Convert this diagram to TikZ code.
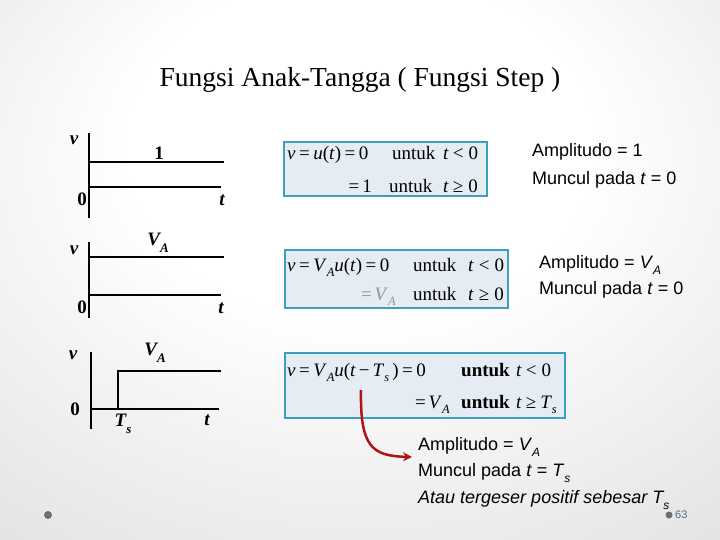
\documentclass[tikz,border=0pt]{standalone}
\usepackage{fontspec}
\setmainfont{Liberation Serif}
\newfontfamily\arialf{Liberation Sans}
\usetikzlibrary{arrows.meta}
\definecolor{boxfill}{RGB}{230,236,243}
\definecolor{boxline}{RGB}{60,158,192}
\definecolor{arrred}{RGB}{178,18,18}
\definecolor{pgnum}{RGB}{70,110,140}
\definecolor{dotgray}{RGB}{110,110,110}
\pgfdeclareradialshading{bgshade}{\pgfpoint{0bp}{15bp}}{color(0bp)=(white); color(16bp)=(white); color(70bp)=(black!24)}
\newcommand{\vi}[1]{\textit{#1}}
\newcommand{\fsub}[1]{\raisebox{-0.3em}{\fontsize{12.5}{12.5}\selectfont\itshape #1}}
\newcommand{\gsub}[1]{\raisebox{-0.35em}{\fontsize{13}{13}\selectfont\bfseries\itshape #1}}
\newcommand{\asub}[1]{\raisebox{-0.35em}{\fontsize{12}{12}\selectfont\itshape #1}}
\newcommand{\eqs}{\hspace{3.5pt}=\hspace{3.5pt}}
\begin{document}
\begin{tikzpicture}[x=1pt,y=-1pt,
  ax/.style={line width=2.8pt},
  glab/.style={font=\fontsize{19}{20}\selectfont\bfseries\itshape, inner sep=0},
  gnum/.style={font=\fontsize{19}{20}\selectfont\bfseries, inner sep=0},
  fbox/.style={draw=boxline, fill=boxfill, line width=2.5pt, inner sep=0},
  ftxt/.style={font=\fontsize{19}{20}\selectfont, inner sep=0},
  fbold/.style={font=\fontsize{19}{20}\selectfont\bfseries, inner sep=0},
  rtxt/.style={font=\arialf\fontsize{18}{20}\selectfont, inner sep=0, anchor=base west}]
\path[shading=bgshade] (0,0) rectangle (720,540);
\useasboundingbox (0,0) rectangle (720,540);

% title
\node[font=\fontsize{27.5}{30}\selectfont, anchor=base, inner sep=0] (title) at (360,87) {Fungsi Anak-Tangga ( Fungsi Step )};

% graph 1
\draw[ax] (89,133) -- (89,218);
\draw[ax] (89,187) -- (221,187);
\draw[ax] (89,162) -- (224,162);
\node[glab] (g1v) at (74,140) {v};
\node[gnum] (g1one) at (159,153) {1};
\node[gnum] (g1zero) at (82,199) {0};
\node[glab] (g1t) at (222,200) {t};

% graph 2
\draw[ax] (89,242) -- (89,318);
\draw[ax] (89,295) -- (221,295);
\draw[ax] (89,257) -- (224,257);
\node[glab] (g2v) at (74,250) {v};
\node[glab] (g2va) at (158,243) {V\gsub{A}};
\node[gnum] (g2zero) at (82,307) {0};
\node[glab] (g2t) at (221,308) {t};

% graph 3
\draw[ax] (91,352) -- (91,429);
\draw[ax] (91,409) -- (219,409);
\draw[ax] (118,409) -- (118,371) -- (221,371);
\node[glab] (g3v) at (73,355) {v};
\node[glab] (g3va) at (155,353) {V\gsub{A}};
\node[gnum] (g3zero) at (75,409) {0};
\node[glab] (g3ts) at (123,424) {T\gsub{s}};
\node[glab] (g3t) at (207,420) {t};

% formula boxes
\node[fbox, minimum width=203pt, minimum height=54pt] (box1) at (385.5,169) {};
\node[fbox, minimum width=223pt, minimum height=58pt] (box2) at (396.5,279) {};
\node[fbox, minimum width=280pt, minimum height=65pt] (box3) at (425,385.5) {};

% box 1 text
\node[ftxt, anchor=base west] (b1l1) at (287,160) {\vi{v}\eqs\vi{u}(\vi{t})\eqs 0};
\node[ftxt, anchor=base west] (b1u1) at (392,160) {untuk};
\node[ftxt, anchor=base west] (b1c1) at (443,160) {\vi{t}\hspace{4pt}<\hspace{5pt}0};
\node[ftxt, anchor=base east] (b1l2) at (372,193) {=\hspace{3pt}1};
\node[ftxt, anchor=base west] (b1u2) at (389,193) {untuk};
\node[ftxt, anchor=base west] (b1c2) at (443,193) {\vi{t}\hspace{4pt}≥\hspace{5pt}0};

% box 2 text
\node[ftxt, anchor=base west] (b2l1) at (287,271) {\vi{v}\eqs\vi{V}\fsub{A}\vi{u}(\vi{t})\eqs 0};
\node[ftxt, anchor=base west] (b2u1) at (413,271) {untuk};
\node[ftxt, anchor=base west] (b2c1) at (468,271) {\vi{t}\hspace{5pt}<\hspace{5pt}0};
\node[ftxt, anchor=base east, text=black!42] (b2l2) at (396,300) {=\hspace{3pt}\vi{V}\fsub{A}};
\node[ftxt, anchor=base west] (b2u2) at (413,300) {untuk};
\node[ftxt, anchor=base west] (b2c2) at (468,300) {\vi{t}\hspace{5pt}≥\hspace{5pt}0};

% box 3 text
\node[ftxt, anchor=base west] (b3l1) at (287,376) {\vi{v}\eqs\vi{V}\fsub{A}\vi{u}(\vi{t}\hspace{3pt}−\hspace{3pt}\vi{T}\fsub{s}\,)\eqs 0};
\node[fbold, anchor=base west] (b3u1) at (461,376) {untuk};
\node[ftxt, anchor=base west] (b3c1) at (516,376) {\vi{t}\hspace{4pt}<\hspace{5pt}0};
\node[ftxt, anchor=base east] (b3l2) at (450,408) {=\hspace{3pt}\vi{V}\fsub{A}};
\node[fbold, anchor=base west] (b3u2) at (461,408) {untuk};
\node[ftxt, anchor=base west] (b3c2) at (516,408) {\vi{t}\hspace{4pt}≥\hspace{4pt}\vi{T}\fsub{s}};

% right texts
\node[rtxt] (r1a) at (532,157) {Amplitudo = 1};
\node[rtxt] (r1b) at (532,185) {Muncul pada \textit{t} = 0};
\node[rtxt] (r2a) at (539,268) {Amplitudo = \textit{V}\asub{A}};
\node[rtxt] (r2b) at (539,294) {Muncul pada \textit{t} = 0};
\node[rtxt] (r3a) at (418,450) {Amplitudo = \textit{V}\asub{A}};
\node[rtxt] (r3b) at (418,476) {Muncul pada \textit{t} = \textit{T}\asub{s}};
\node[rtxt] (r3c) at (418,503) {\itshape Atau tergeser positif sebesar T\asub{s}};

% arrow
\coordinate (arrS) at (361,390);
\coordinate (arrE) at (412,457);
\draw[arrred, line width=2.5pt, -{Stealth[length=9pt,width=9pt]}] (arrS) .. controls (360,447) and (372,456) .. (arrE);

% page marks
\fill[dotgray] (48,515) circle (4);
\fill[dotgray] (669,515) circle (3.5);
\node[font=\arialf\fontsize{11}{12}\selectfont, text=pgnum, anchor=west, inner sep=0] (pnum) at (675,515) {63};
\end{tikzpicture}
\end{document}
